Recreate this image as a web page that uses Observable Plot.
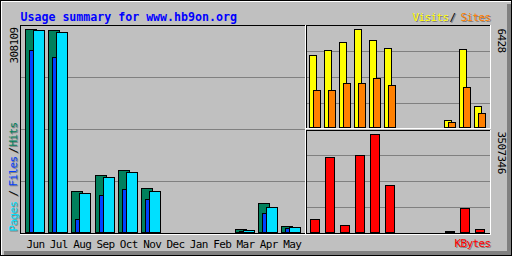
<!DOCTYPE html>
<html>
<head>
<meta charset="utf-8">
<script src="https://cdn.jsdelivr.net/npm/d3@7"></script>
<script src="https://cdn.jsdelivr.net/npm/@observablehq/plot@0.6"></script>
<style>
  html, body { margin: 0; padding: 0; background: #ffffff; }
  #chart { position: relative; width: 512px; height: 256px; background: #c0c0c0; overflow: hidden; }
  #chart .ln { position: absolute; }
  #chart svg { position: absolute; }
  #chart svg g[font-size="11"] text { letter-spacing: -0.6px; }
</style>
</head>
<body>
<div id="chart"></div>
<script>
// ---- data ----
const title = "Usage summary for www.hb9on.org";
const months = ["Jun","Jul","Aug","Sep","Oct","Nov","Dec","Jan","Feb","Mar","Apr","May"];
const hits   = [308109, 306100, 61800, 86100, 93700, 66300, 0, 0, 0, 4550, 44000, 9100];
const files  = [276200, 265600, 19700, 55700, 64800, 49600, 0, 0, 0, 2000, 28800, 6100];
const pages  = [306100, 303100, 58700, 83000, 90600, 62200, 0, 0, 0, 3000, 37900, 7600];
const visits = [4742, 5070, 5595, 6428, 5726, 5202, 0, 0, 0, 479, 5136, 1397];
const sites  = [2447, 2447, 2906, 2906, 3234, 2775, 0, 0, 0, 328, 2644, 938];
const kbytes = [476000, 2695000, 261000, 2766000, 3507346, 1693000, 0, 0, 0, 30000, 870000, 118000];
const leftLegend = ["Pages", "/", "Files", "/", "Hits"];
const topLegend = ["Visits", "/", "Sites"];
const bottomLegend = ["KBytes"];

// ---- styling ----
const C = {hits: "#00805c", files: "#0040ff", pages: "#00e0ff", visits: "#ffff00", sites: "#ff8000",
           kbytes: "#ff0000", grid: "#808080", shadow: "#808080", title: "#0000ff"};
const FONT = "DejaVu Sans Mono, monospace";
const FS = 11;

const rows = months.map((m, i) => ({month: m, i, hits: hits[i], files: files[i], pages: pages[i],
  visits: visits[i], sites: sites[i], kbytes: kbytes[i]}));

const root = document.getElementById("chart");
function line(x, y, w, h, color) {
  const d = document.createElement("div");
  d.className = "ln";
  Object.assign(d.style, {left: x + "px", top: y + "px", width: w + "px", height: h + "px", background: color});
  root.appendChild(d);
}
function place(svg, left, top) {
  svg.style.left = left + "px";
  svg.style.top = top + "px";
  root.appendChild(svg);
}
function gridValues(sc, localRows) {
  const s = d3.scaleLinear(sc.domain, sc.range);
  return localRows.map(r => s.invert(r));
}
function bars(data, key, off1, off2, unit, fill) {
  return Plot.rect(data.filter(d => d[key] > 0), {
    x1: d => d.i + off1 / unit, x2: d => d.i + off2 / unit, y1: 0, y2: key,
    fill, stroke: "#000", strokeWidth: 1, shapeRendering: "crispEdges"
  });
}
function labelMarks(items, base) {
  return items.flatMap(it => [
    Plot.text([it.text], {...base, text: d => d, fill: C.shadow, dx: it.dx + 1, dy: it.dy + 1}),
    Plot.text([it.text], {...base, text: d => d, fill: it.fill, dx: it.dx, dy: it.dy})
  ]);
}
const txt = {fontFamily: FONT, fontSize: FS};
const svgStyle = {background: "transparent", overflow: "visible"};

// ---- main chart: hits / files / pages ----
const U = 280 / 12;
const yMain = {domain: [0, d3.max(hits)], range: [207.5, 4.5]};
const leftPos = [206, 171, 161, 128, 121];
const leftFill = [C.pages, "#000", C.files, "#000", C.hits];
const main = Plot.plot({
  width: 286, height: 231,
  marginTop: 0, marginRight: 0, marginBottom: 23, marginLeft: 0,
  style: svgStyle,
  x: {domain: [0, 12], range: [5, 285], axis: null},
  y: {...yMain, axis: null},
  marks: [
    Plot.ruleY(gridValues(yMain, [52, 104, 156]), {stroke: C.grid, strokeWidth: 1}),
    bars(rows, "hits", 0, 11, U, C.hits),
    bars(rows, "files", 4, 11, U, C.files),
    bars(rows, "pages", 8, 19, U, C.pages),
    Plot.text(rows, {x: d => d.i + 10 / U, text: "month", frameAnchor: "bottom", lineAnchor: "bottom",
      dy: 14.5, fill: "#000", ...txt}),
    Plot.text([title], {text: d => d, frameAnchor: "top-left", textAnchor: "start", lineAnchor: "bottom",
      dy: -5, fill: C.title, fontFamily: FONT, fontSize: 11.6, fontWeight: "bold"}),
    Plot.text([d3.max(hits)], {text: d => String(d), frameAnchor: "top-left", rotate: -90, textAnchor: "start",
      lineAnchor: "bottom", dx: -3, dy: 38, fill: "#000", ...txt}),
    ...labelMarks(leftLegend.map((t, k) => ({text: t, fill: leftFill[k], dx: -4, dy: leftPos[k]})),
      {frameAnchor: "top-left", rotate: -90, textAnchor: "start", lineAnchor: "bottom", ...txt})
  ]
});
place(main, 20, 25);

// ---- top right: visits / sites ----
const U2 = 15;
const yVis = {domain: [0, d3.max(visits)], range: [102.5, 4.5]};
const topPos = [106, 143, 154];
const topFill = [C.visits, "#000", C.sites];
const topPanel = Plot.plot({
  width: 185, height: 104, margin: 0,
  style: svgStyle,
  x: {domain: [0, 12], range: [3, 183], axis: null},
  y: {...yVis, axis: null},
  marks: [
    Plot.ruleY(gridValues(yVis, [26, 52, 78]), {stroke: C.grid, strokeWidth: 1}),
    bars(rows, "visits", 0, 7, U2, C.visits),
    bars(rows, "sites", 4, 11, U2, C.sites),
    Plot.text([d3.max(visits)], {text: d => String(d), frameAnchor: "top-right", rotate: 90, textAnchor: "start",
      lineAnchor: "bottom", dx: 6, dy: 3, fill: "#000", ...txt}),
    ...labelMarks(topLegend.map((t, k) => ({text: t, fill: topFill[k], dx: topPos[k], dy: -4.5})),
      {frameAnchor: "top-left", textAnchor: "start", lineAnchor: "bottom", ...txt})
  ]
});
place(topPanel, 306, 25);

// ---- bottom right: kbytes ----
const yKb = {domain: [0, d3.max(kbytes)], range: [102.5, 4.5]};
const botPanel = Plot.plot({
  width: 185, height: 104, margin: 0,
  style: svgStyle,
  x: {domain: [0, 12], range: [3, 183], axis: null},
  y: {...yKb, axis: null},
  marks: [
    Plot.ruleY(gridValues(yKb, [25, 51, 77]), {stroke: C.grid, strokeWidth: 1}),
    bars(rows, "kbytes", 1, 10, U2, C.kbytes),
    Plot.text([d3.max(kbytes)], {text: d => String(d), frameAnchor: "top-right", rotate: 90, textAnchor: "start",
      lineAnchor: "bottom", dx: 6, dy: 1, fill: "#000", ...txt}),
    ...labelMarks(bottomLegend.map(t => ({text: t, fill: C.kbytes, dx: 148, dy: 116.5})),
      {frameAnchor: "top-left", textAnchor: "start", lineAnchor: "bottom", ...txt})
  ]
});
place(botPanel, 306, 130);

// ---- frames (drawn over the plots) ----
line(20, 25, 286, 1, "#000");
line(20, 25, 1, 209, "#000");
line(20, 233, 285, 1, "#000");
line(20, 234, 286, 1, "#fff");
line(305, 25, 1, 210, "#fff");
line(306, 25, 185, 1, "#000");
line(306, 25, 1, 104, "#000");
line(490, 25, 1, 104, "#fff");
line(306, 128, 185, 1, "#fff");
line(306, 130, 185, 1, "#000");
line(306, 130, 1, 104, "#000");
line(306, 233, 184, 1, "#000");
line(490, 130, 1, 105, "#fff");
line(306, 234, 185, 1, "#fff");
// outer bevel
line(0, 0, 512, 1, "#000");
line(0, 255, 512, 1, "#000");
line(0, 0, 1, 256, "#000");
line(511, 0, 1, 256, "#000");
line(1, 1, 510, 1, "#fff");
line(1, 1, 1, 254, "#fff");
line(4, 251, 507, 4, "#808080");
line(507, 4, 4, 251, "#808080");
</script>
</body>
</html>
